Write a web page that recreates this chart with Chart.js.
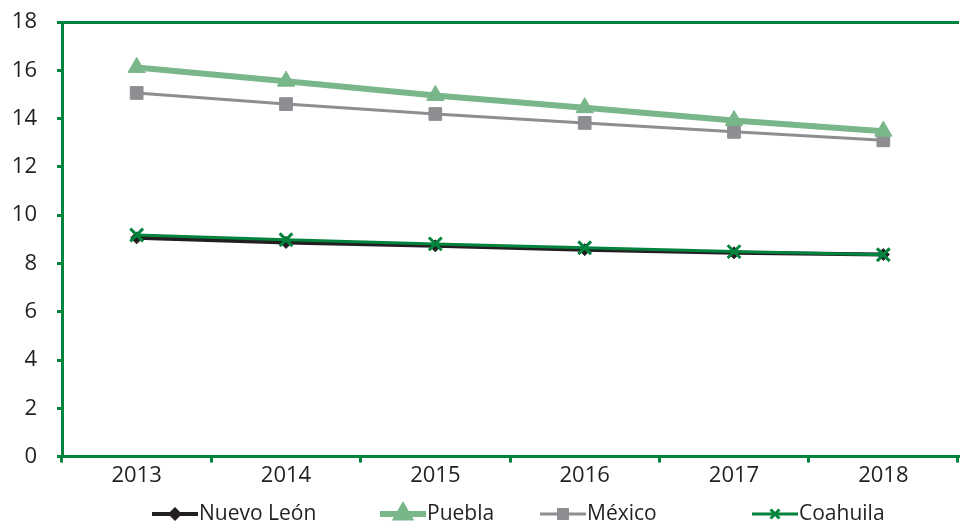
<!DOCTYPE html>
<html>
<head>
<meta charset="utf-8">
<script src="https://cdn.jsdelivr.net/npm/chart.js@4"></script>
<style>
  html, body { margin: 0; padding: 0; background: #fff; overflow: hidden; }
  #wrap { width: 970px; height: 529px; }
</style>
</head>
<body>
<div id="wrap"><canvas id="chart"></canvas></div>
<script>
const years = ["2013", "2014", "2015", "2016", "2017", "2018"]
const nuevoLeon = [9.06, 8.87, 8.73, 8.57, 8.44, 8.37]
const puebla = [16.12, 15.55, 14.96, 14.45, 13.92, 13.48]
const mexico = [15.06, 14.6, 14.19, 13.82, 13.45, 13.1]
const coahuila = [9.18, 8.98, 8.81, 8.65, 8.49, 8.36]
const yTicks = [0, 2, 4, 6, 8, 10, 12, 14, 16, 18]

const green = "#00843d"
const fontFamily = "'Open Sans', sans-serif"

// legend drawn by hand: short line with the marker, text right after it
const lineLegend = {
  id: "lineLegend",
  afterDraw(chart) {
    const ctx = chart.ctx
    const lineLen = 46, y = 514
    const starts = [152, 380, 540, 752]
    ctx.save()
    ctx.font = "21px " + fontFamily
    chart.data.datasets.forEach((ds, i) => {
      const x = starts[i]
      ctx.strokeStyle = ds.borderColor
      ctx.fillStyle = ds.backgroundColor
      ctx.lineWidth = ds.borderWidth
      ctx.beginPath()
      ctx.moveTo(x, y)
      ctx.lineTo(x + lineLen, y)
      ctx.stroke()
      Chart.helpers.drawPoint(ctx, {
        pointStyle: ds.pointStyle,
        radius: ds.pointRadius * 0.7,
        borderWidth: ds.pointBorderWidth
      }, x + lineLen / 2, y)
      ctx.fillStyle = "#231f20"
      ctx.textBaseline = "middle"
      ctx.fillText(ds.label, x + lineLen + 1, y)
    })
    ctx.restore()
  }
}

new Chart(document.getElementById("chart"), {
  type: "line",
  data: {
    labels: years,
    datasets: [
      {
        label: "Nuevo León",
        data: nuevoLeon,
        borderColor: "#231f20",
        backgroundColor: "#231f20",
        borderWidth: 4,
        pointStyle: "rectRot",
        pointRadius: 6,
        pointBorderWidth: 1,
        order: 1
      },
      {
        label: "Puebla",
        data: puebla,
        borderColor: "#79b78b",
        backgroundColor: "#79b78b",
        borderWidth: 6,
        pointStyle: "triangle",
        pointRadius: 10,
        pointBorderWidth: 1,
        order: 1
      },
      {
        label: "México",
        data: mexico,
        borderColor: "#8e8e92",
        backgroundColor: "#8e8e92",
        borderWidth: 3,
        pointStyle: "rect",
        pointRadius: 9,
        pointBorderWidth: 1,
        order: 1
      },
      {
        label: "Coahuila",
        data: coahuila,
        borderColor: green,
        backgroundColor: green,
        borderWidth: 3,
        pointStyle: "crossRot",
        pointRadius: 9,
        pointBorderWidth: 3,
        order: 0
      }
    ]
  },
  options: {
    responsive: true,
    maintainAspectRatio: false,
    animation: false,
    layout: { padding: { top: 22, left: 0, right: 2, bottom: 40 } },
    plugins: {
      legend: { display: false },
      tooltip: { enabled: false }
    },
    scales: {
      x: {
        offset: true,
        grid: { offset: true, drawOnChartArea: false, color: green, lineWidth: 3, tickLength: 6 },
        border: { color: green, width: 3 },
        ticks: { color: "#231f20", font: { family: fontFamily, size: 22 }, padding: 0, maxRotation: 0 }
      },
      x2: {
        position: "top",
        labels: years,
        grid: { display: false, drawTicks: false },
        border: { color: green, width: 3 },
        ticks: { display: false },
        afterFit: axis => { axis.height = 0 }
      },
      y: {
        min: 0,
        max: 18,
        afterBuildTicks: axis => { axis.ticks = yTicks.map(v => ({ value: v })) },
        afterFit: axis => { axis.width = 62; axis.paddingTop = 0 },
        grid: { drawOnChartArea: false, color: green, lineWidth: 3, tickLength: 5 },
        border: { color: green, width: 3 },
        ticks: { color: "#231f20", font: { family: fontFamily, size: 22 }, padding: 20 }
      }
    }
  },
  plugins: [lineLegend]
})
</script>
</body>
</html>
